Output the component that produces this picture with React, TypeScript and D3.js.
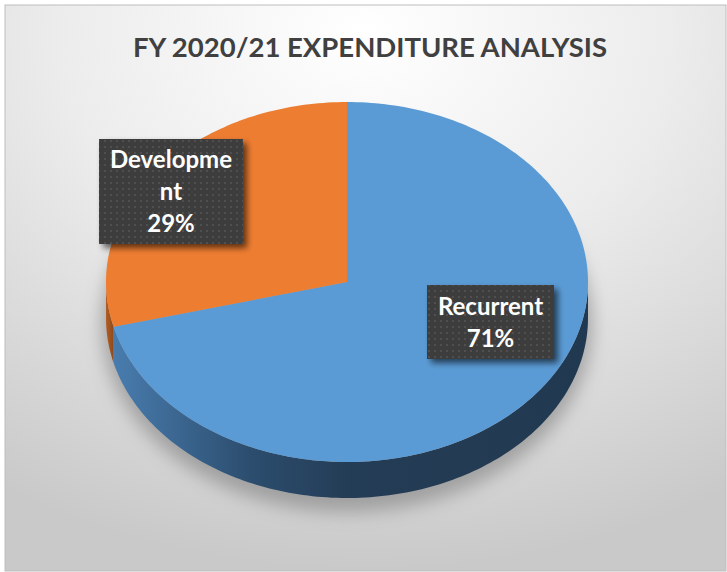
import { useEffect, useRef } from "react";
import * as d3 from "d3";

const title = "FY 2020/21 EXPENDITURE ANALYSIS";
const categories = ["Recurrent", "Development"];
const shares = [71, 29];
const labelLines = [["Recurrent", "71%"], ["Developme", "nt", "29%"]];
const topColors = ["#5B9BD5", "#ED7D31"];

const W = 727;
const H = 572;

export default function App() {
  const ref = useRef<SVGSVGElement>(null);

  useEffect(() => {
    if (!ref.current) return;
    const svg = d3.select(ref.current);
    svg.selectAll("*").remove();

    const cx = 347, cy = 282, rx = 241, ry = 180, depth = 36;
    const px = (a: number) => cx + rx * Math.sin(a);
    const py = (a: number) => cy - ry * Math.cos(a);

    const defs = svg.append("defs");
    const bg = defs.append("radialGradient").attr("id", "bg")
      .attr("cx", "50%").attr("cy", "5%").attr("r", "95%")
      .attr("fx", "50%").attr("fy", "5%");
    bg.append("stop").attr("offset", "0%").attr("stop-color", "#ffffff");
    bg.append("stop").attr("offset", "45%").attr("stop-color", "#ececec");
    bg.append("stop").attr("offset", "100%").attr("stop-color", "#c9c9c9");

    const side = defs.append("linearGradient").attr("id", "side")
      .attr("gradientUnits", "userSpaceOnUse")
      .attr("x1", cx - rx).attr("x2", cx + rx).attr("y1", 0).attr("y2", 0);
    side.append("stop").attr("offset", "0%").attr("stop-color", "#4a7fb2");
    side.append("stop").attr("offset", "30%").attr("stop-color", "#2c4d6e");
    side.append("stop").attr("offset", "50%").attr("stop-color", "#243d56");
    side.append("stop").attr("offset", "100%").attr("stop-color", "#213950");

    const sideO = defs.append("linearGradient").attr("id", "sideO");
    sideO.append("stop").attr("offset", "0%").attr("stop-color", "#b25d24");
    sideO.append("stop").attr("offset", "100%").attr("stop-color", "#8e4a1c");

    const blur = defs.append("filter").attr("id", "blur")
      .attr("x", "-20%").attr("y", "-20%").attr("width", "140%").attr("height", "140%");
    blur.append("feGaussianBlur").attr("stdDeviation", 9);

    const boxShadow = defs.append("filter").attr("id", "boxShadow")
      .attr("x", "-20%").attr("y", "-20%").attr("width", "150%").attr("height", "150%");
    boxShadow.append("feGaussianBlur").attr("in", "SourceAlpha").attr("stdDeviation", 3).attr("result", "b");
    boxShadow.append("feOffset").attr("in", "b").attr("dx", 4).attr("dy", 4).attr("result", "o");
    boxShadow.append("feComponentTransfer").attr("in", "o").attr("result", "s")
      .append("feFuncA").attr("type", "linear").attr("slope", 0.6);
    const merge = boxShadow.append("feMerge");
    merge.append("feMergeNode").attr("in", "s");
    merge.append("feMergeNode").attr("in", "SourceGraphic");

    const pat = defs.append("pattern").attr("id", "dots")
      .attr("patternUnits", "userSpaceOnUse").attr("width", 6).attr("height", 6);
    pat.append("rect").attr("width", 6).attr("height", 6).attr("fill", "#3d3d3d");
    pat.append("circle").attr("cx", 3).attr("cy", 3).attr("r", 0.9).attr("fill", "#575757");

    // background and frame
    svg.append("rect").attr("x", 5).attr("y", 5).attr("width", W - 6).attr("height", H - 6)
      .attr("fill", "url(#bg)").attr("stroke", "#bdbdbd").attr("stroke-width", 1);

    svg.append("text").attr("x", 370).attr("y", 57).attr("text-anchor", "middle")
      .attr("font-family", "Lato, 'Open Sans', sans-serif").attr("font-weight", 700)
      .attr("font-size", 27.5).attr("fill", "#404040").text(title);

    // soft shadow under the pie
    svg.append("ellipse").attr("cx", cx).attr("cy", cy + depth + 6)
      .attr("rx", rx + 4).attr("ry", ry + 8)
      .attr("fill", "#8a8a8a").attr("opacity", 0.7).attr("filter", "url(#blur)");

    const pie = d3.pie<number>().sort(null).value((d) => d);
    const arcs = pie(shares);

    const arcPts = (a0: number, a1: number, dy: number) => {
      const n = Math.max(2, Math.ceil(Math.abs(a1 - a0) / 0.02));
      return d3.range(n + 1).map((i) => {
        const a = a0 + ((a1 - a0) * i) / n;
        return [px(a), py(a) + dy] as [number, number];
      });
    };

    // side walls (front half only: angles PI/2..3PI/2)
    arcs.forEach((d, i) => {
      const a0 = Math.max(d.startAngle, Math.PI / 2);
      const a1 = Math.min(d.endAngle, (3 * Math.PI) / 2);
      if (a1 <= a0) return;
      const pts = [...arcPts(a0, a1, 0), ...arcPts(a1, a0, depth)];
      svg.append("path").attr("d", d3.line()(pts) + "Z")
        .attr("fill", i === 0 ? "url(#side)" : "url(#sideO)");
    });

    // top faces
    arcs.forEach((d, i) => {
      const pts: [number, number][] = [[cx, cy], ...arcPts(d.startAngle, d.endAngle, 0)];
      svg.append("path").attr("d", d3.line()(pts) + "Z").attr("fill", topColors[i]);
    });

    // labels
    const boxes = [
      { x: 427, y: 285, w: 127, h: 74 },
      { x: 99, y: 139, w: 144, h: 105 },
    ];
    arcs.forEach((d, i) => {
      const b = boxes[i];
      const g = svg.append("g").attr("class", "label").attr("data-cat", categories[i]);
      g.append("rect").attr("x", b.x).attr("y", b.y).attr("width", b.w).attr("height", b.h)
        .attr("fill", "url(#dots)").attr("filter", "url(#boxShadow)");
      const lines = labelLines[i];
      const lh = 32;
      const top = b.y + b.h / 2 - ((lines.length - 1) * lh) / 2;
      lines.forEach((t, k) => {
        g.append("text").attr("x", b.x + b.w / 2).attr("y", top + k * lh)
          .attr("dy", "0.36em").attr("text-anchor", "middle")
          .attr("font-family", "Lato, 'Open Sans', sans-serif").attr("font-weight", 700)
          .attr("font-size", 24).attr("fill", "#ffffff").text(t);
      });
    });
  }, []);

  return (
    <div style={{ position: "fixed", left: 0, top: 0 }}>
      <svg ref={ref} width={W} height={H} style={{ display: "block", background: "#ffffff" }} />
    </div>
  );
}
